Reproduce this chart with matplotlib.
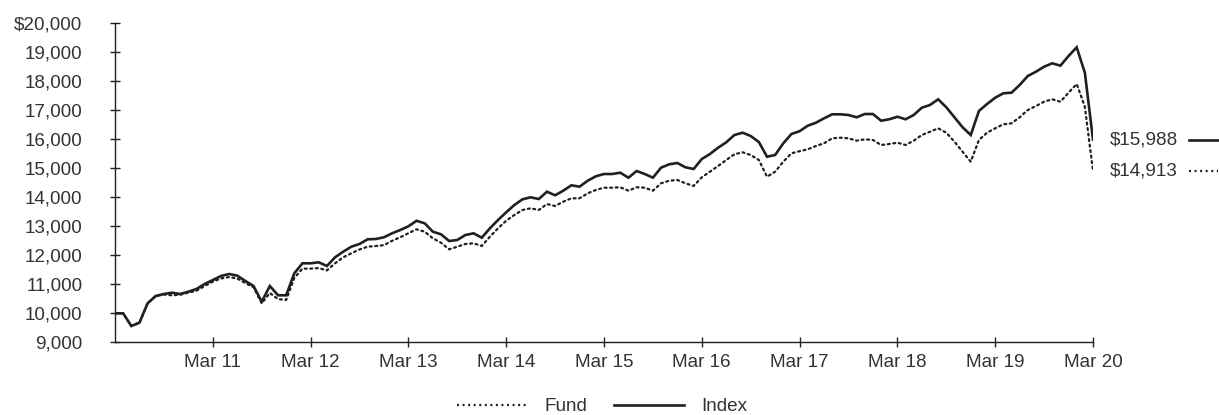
import matplotlib
matplotlib.use("Agg")
import matplotlib.pyplot as plt
from matplotlib.lines import Line2D
from matplotlib.ticker import FuncFormatter

plt.rcParams['font.family'] = ['Liberation Sans', 'DejaVu Sans']

# Monthly values, Mar 2010 .. Mar 2020
index_values = [
    10000, 10000, 9562, 9676, 10345, 10597, 10666, 10710, 10666, 10745, 10838, 11010,
    11148, 11286, 11355, 11297, 11114, 10941, 10400, 10941, 10621, 10621, 11379, 11724,
    11724, 11759, 11631, 11931, 12124, 12297, 12390, 12552, 12562, 12621, 12759, 12872,
    13000, 13190, 13103, 12814, 12724, 12493, 12528, 12700, 12759, 12607, 12931, 13217,
    13483, 13734, 13931, 14000, 13941, 14193, 14069, 14228, 14414, 14366, 14572, 14724,
    14803, 14803, 14848, 14676, 14907, 14803, 14676, 15021, 15138, 15183, 15034, 14976,
    15321, 15493, 15710, 15897, 16148, 16228, 16114, 15907, 15400, 15459, 15862, 16183,
    16280, 16469, 16572, 16724, 16862, 16862, 16838, 16759, 16872, 16872, 16641, 16690,
    16779, 16690, 16838, 17090, 17183, 17379, 17103, 16759, 16414, 16148, 16976, 17217,
    17434, 17586, 17607, 17872, 18183, 18331, 18503, 18621, 18538, 18872, 19172, 18297,
    15988,
]
fund_values = [
    10000, 10000, 9562, 9676, 10345, 10597, 10650, 10620, 10640, 10710, 10780, 10941,
    11090, 11200, 11250, 11200, 11040, 10900, 10345, 10700, 10490, 10460, 11220, 11540,
    11540, 11560, 11480, 11724, 11931, 12070, 12200, 12297, 12320, 12350, 12500, 12621,
    12760, 12897, 12814, 12586, 12434, 12207, 12297, 12390, 12414, 12321, 12641, 12931,
    13193, 13390, 13562, 13621, 13562, 13769, 13700, 13848, 13966, 13966, 14138, 14252,
    14331, 14331, 14345, 14228, 14345, 14331, 14228, 14483, 14572, 14597, 14483, 14390,
    14690, 14883, 15079, 15286, 15483, 15552, 15459, 15286, 14710, 14883, 15228, 15517,
    15590, 15655, 15769, 15862, 16034, 16055, 16034, 15952, 16000, 15976, 15803, 15838,
    15883, 15803, 15952, 16148, 16262, 16379, 16228, 15917, 15572, 15228, 15976, 16228,
    16379, 16517, 16552, 16759, 17010, 17148, 17297, 17379, 17297, 17607, 17907, 17124,
    14913,
]
months = list(range(len(index_values)))
xtick_positions = [12, 24, 36, 48, 60, 72, 84, 96, 108, 120]
xtick_labels = ["Mar 11", "Mar 12", "Mar 13", "Mar 14", "Mar 15",
                "Mar 16", "Mar 17", "Mar 18", "Mar 19", "Mar 20"]
ytick_values = list(range(9000, 20001, 1000))
series_names = ["Fund", "Index"]

INK = '#231f20'
TXT = '#333333'
DOT = (0, (0.9, 1.6))
FS = 13.6

fig = plt.figure(figsize=(12.19, 4.15), dpi=100)
ax = fig.add_axes([115/1219, 1 - 342.3/415, (1093-115)/1219, (342.3-23.3)/415])

ax.plot(months, fund_values, color=INK, lw=1.6, linestyle=DOT,
        dash_capstyle='round')
ax.plot(months, index_values, color=INK, lw=1.9, solid_joinstyle='miter')

ax.set_xlim(0, 120)
ax.set_ylim(9000, 20000)
ax.set_xticks(xtick_positions)
ax.set_xticklabels(xtick_labels)
ax.set_yticks(ytick_values)
ax.yaxis.set_major_formatter(FuncFormatter(
    lambda v, p: f"${v:,.0f}" if v == 20000 else f"{v:,.0f}"))

for s in ['top', 'right']:
    ax.spines[s].set_visible(False)
for s in ['left', 'bottom']:
    ax.spines[s].set_color(INK)
    ax.spines[s].set_linewidth(1.0)
ax.tick_params(axis='both', direction='inout', length=7, width=1.0, color=INK,
               labelsize=FS, labelcolor=TXT)
ax.tick_params(axis='y', pad=20)
ax.tick_params(axis='x', pad=5)

# end labels at right
for vals, ls, lw in [(index_values, '-', 1.9), (fund_values, DOT, 1.6)]:
    yv = vals[-1]
    ax.text(1.087, yv, f"${yv:,.0f}", transform=ax.get_yaxis_transform(),
            ha='right', va='center', fontsize=FS, color=TXT, clip_on=False)
    ax.plot([1.098, 1.128], [yv, yv], transform=ax.get_yaxis_transform(),
            color=INK, lw=lw, linestyle=ls, clip_on=False)

handles = [Line2D([], [], color=INK, lw=1.6, linestyle=DOT),
           Line2D([], [], color=INK, lw=1.9)]
fig.legend(handles, series_names, loc='center', bbox_to_anchor=(0.494, 0.02),
           ncol=2, frameon=False, fontsize=FS, handlelength=3.7, handletextpad=0.95,
           columnspacing=1.4, labelcolor=TXT)

fig.savefig("out.png", dpi=100)
